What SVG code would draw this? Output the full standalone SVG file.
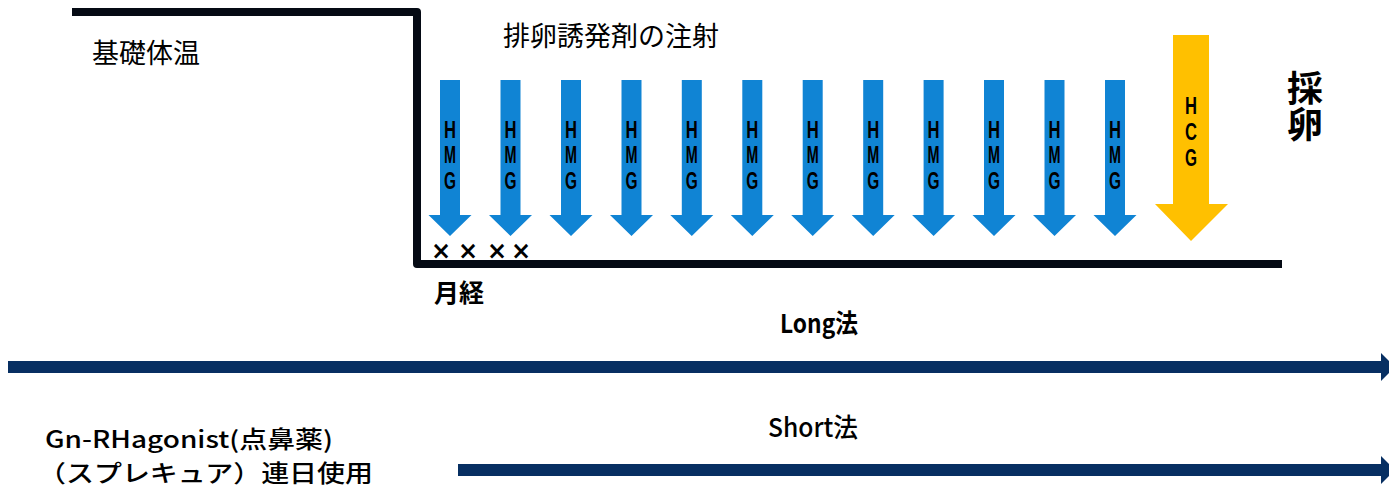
<svg xmlns="http://www.w3.org/2000/svg" width="1389" height="491" viewBox="0 0 1389 491">
<style>
.jp{font-family:"Noto Sans CJK JP","Noto Sans",sans-serif;fill:#000}
.lt{font-family:"Liberation Sans","Noto Sans",sans-serif;font-weight:bold;font-size:24px;fill:#000;text-anchor:middle}
.x{font-family:"DejaVu Sans",sans-serif;font-weight:bold;font-size:24px;text-anchor:middle;fill:#000}
.hmg{fill:#1084d4}
.hcg{fill:#ffc000}
.nav{fill:#072f62}
</style>
<defs>
<g id="hmgArrow">
<polygon class="hmg" points="-10,80 10,80 10,215 21.5,215 0,236 -21.5,215 -10,215"/>
<text class="lt" x="0" y="138" textLength="12" lengthAdjust="spacingAndGlyphs">H</text>
<text class="lt" x="0" y="163" textLength="12" lengthAdjust="spacingAndGlyphs">M</text>
<text class="lt" x="0" y="189" textLength="12" lengthAdjust="spacingAndGlyphs">G</text>
</g>
</defs>
<g id="temperature-line">
<path d="M72,12 H417 V264 H1282" fill="none" stroke="#050a14" stroke-width="8" stroke-linejoin="round"/>
</g>
<g id="label-bbt"><text class="jp" x="92" y="63" font-size="27">基礎体温</text></g>
<g id="label-injection"><text class="jp" x="503" y="46" font-size="27">排卵誘発剤の注射</text></g>
<g id="hmg-arrows">
<use href="#hmgArrow" x="450" y="0"/>
<use href="#hmgArrow" x="510.5" y="0"/>
<use href="#hmgArrow" x="571" y="0"/>
<use href="#hmgArrow" x="631.5" y="0"/>
<use href="#hmgArrow" x="691.8" y="0"/>
<use href="#hmgArrow" x="752.3" y="0"/>
<use href="#hmgArrow" x="812.7" y="0"/>
<use href="#hmgArrow" x="873.2" y="0"/>
<use href="#hmgArrow" x="933.6" y="0"/>
<use href="#hmgArrow" x="994" y="0"/>
<use href="#hmgArrow" x="1054.5" y="0"/>
<use href="#hmgArrow" x="1115" y="0"/>
</g>
<g id="hcg-arrow">
<polygon class="hcg" points="1173,35 1209,35 1209,204 1228,204 1191,241 1155,204 1173,204"/>
<text class="lt" x="1191" y="114" textLength="12" lengthAdjust="spacingAndGlyphs">H</text>
<text class="lt" x="1191" y="140" textLength="12" lengthAdjust="spacingAndGlyphs">C</text>
<text class="lt" x="1191" y="166" textLength="12" lengthAdjust="spacingAndGlyphs">G</text>
</g>
<g id="label-retrieval">
<text class="jp" x="1305" y="70" font-size="36" font-weight="bold" writing-mode="vertical-rl" letter-spacing="0">採卵</text>
</g>
<g id="crosses">
<text class="x" x="441" y="259">×</text>
<text class="x" x="468" y="259">×</text>
<text class="x" x="497" y="259">×</text>
<text class="x" x="521" y="259">×</text>
</g>
<g id="label-menses"><text class="jp" x="434" y="302" font-size="25" font-weight="bold">月経</text></g>
<g id="label-long"><text class="jp" x="780" y="333" font-size="26" font-weight="bold" textLength="78" lengthAdjust="spacingAndGlyphs">Long法</text></g>
<g id="label-short"><text class="jp" x="768" y="437" font-size="26" font-weight="500" textLength="90" lengthAdjust="spacingAndGlyphs">Short法</text></g>
<g id="label-agonist">
<text class="jp" x="45" y="448" font-size="23.5" font-weight="500" textLength="288" lengthAdjust="spacingAndGlyphs">Gn-RHagonist(点鼻薬)</text>
<text class="jp" x="38" y="482" font-size="23.5" font-weight="500" textLength="335" lengthAdjust="spacingAndGlyphs">（スプレキュア）連日使用</text>
</g>
<g id="connectors">
<polygon class="nav" points="8,361 1381,361 1381,353 1395,367 1381,381 1381,373 8,373"/>
<polygon class="nav" points="458,464 1381,464 1381,456 1395,470 1381,484 1381,476 458,476"/>
</g>
</svg>
